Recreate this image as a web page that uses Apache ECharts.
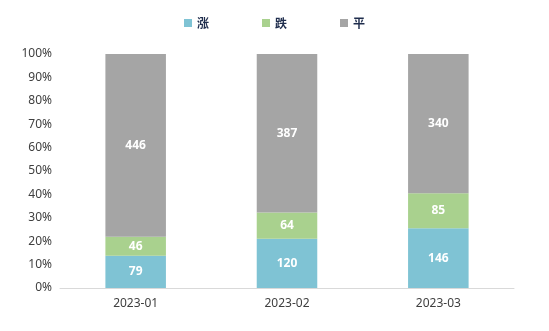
<!DOCTYPE html>
<html><head><meta charset="utf-8">
<script src="https://cdn.jsdelivr.net/npm/echarts@6/dist/echarts.min.js"></script>
<style>html,body{margin:0;padding:0;background:#fff}#c{width:549px;height:331px}</style>
</head><body><div id="c"></div>
<script>
const categories = ['2023-01', '2023-02', '2023-03'];
const rise = [79, 120, 146];
const fall = [46, 64, 85];
const flat = [446, 387, 340];
const seriesNames = ['涨', '跌', '平'];
const colors = ['#7fc3d4', '#a9d18e', '#a5a5a5'];

const raw = [rise, fall, flat];
const totals = categories.map((_, i) => rise[i] + fall[i] + flat[i]);
const chart = echarts.init(document.getElementById('c'), null, {renderer: 'canvas'});
chart.setOption({
  animation: false,
  legend: {
    top: 12, left: 'center', itemWidth: 8, itemHeight: 8, itemGap: 53,
    icon: 'rect',
    textStyle: {fontFamily: 'Noto Sans CJK SC', fontSize: 12, fontWeight: 'bold', color: '#1f2d4d'},
    data: seriesNames
  },
  grid: {left: 60, right: 35, top: 54, bottom: 43},
  xAxis: {
    type: 'category', data: categories,
    axisLine: {lineStyle: {color: '#d9d9d9'}},
    axisTick: {show: false},
    axisLabel: {color: '#404040', fontSize: 12, fontFamily: 'Noto Sans', margin: 10}
  },
  yAxis: {
    type: 'value', min: 0, max: 100, interval: 10,
    axisLabel: {formatter: '{value}%', color: '#404040', fontSize: 12, fontFamily: 'Noto Sans', margin: 8},
    splitLine: {show: false}, axisLine: {show: false}, axisTick: {show: false}
  },
  series: raw.map((arr, k) => ({
    name: seriesNames[k], type: 'bar', stack: 'total', barWidth: '40%',
    itemStyle: {color: colors[k]},
    label: {
      show: true, position: 'inside', color: '#fff', fontWeight: 'bold', fontSize: 12,
      fontFamily: 'Noto Sans',
      formatter: p => arr[p.dataIndex]
    },
    data: arr.map((v, i) => v / totals[i] * 100)
  }))
});
</script></body></html>
